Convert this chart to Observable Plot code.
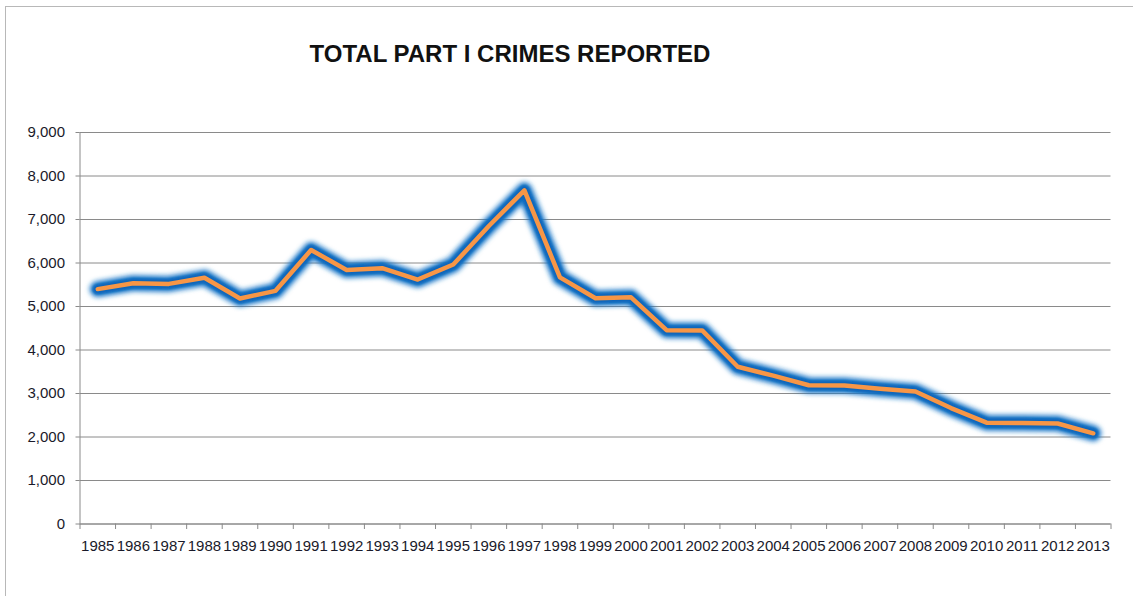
<!DOCTYPE html>
<html>
<head>
<meta charset="utf-8">
<script src="https://cdn.jsdelivr.net/npm/d3@7"></script>
<script src="https://cdn.jsdelivr.net/npm/@observablehq/plot@0.6"></script>
<style>
  html, body { margin: 0; padding: 0; background: #fff; }
  #wrap { position: relative; width: 1133px; height: 596px; overflow: hidden; background: #fff; }
  #frame { position: absolute; left: 5px; top: 6px; width: 1140px; height: 600px;
           border-left: 1.5px solid #b8b8b8; border-top: 1.5px solid #b8b8b8; box-sizing: border-box; }
  #title { position: absolute; left: 0; width: 1020px; top: 40px; text-align: center;
           font-family: "Liberation Sans", Arial, sans-serif; font-weight: bold; font-size: 24px;
           color: #111; letter-spacing: 0px; }
  #chart { position: absolute; left: 0; top: 0; }
</style>
</head>
<body>
<div id="wrap">
  <div id="frame"></div>
  <div id="chart"></div>
  <div id="title">TOTAL PART I CRIMES REPORTED</div>
</div>
<script>
const years = [1985,1986,1987,1988,1989,1990,1991,1992,1993,1994,1995,1996,1997,1998,1999,2000,2001,2002,2003,2004,2005,2006,2007,2008,2009,2010,2011,2012,2013];
const crimes = [5400,5535,5520,5660,5185,5360,6300,5840,5880,5620,5965,6850,7670,5670,5190,5210,4455,4450,3615,3410,3190,3185,3110,3045,2665,2330,2320,2310,2085];
const yTicks = [0,1000,2000,3000,4000,5000,6000,7000,8000,9000];

const data = years.map((y, i) => ({year: y, value: crimes[i]}));
const boundaries = [years[0] - 0.5, ...years.map(y => y + 0.5)];

const plot = Plot.plot({
  width: 1133,
  height: 596,
  marginLeft: 79.5,
  marginRight: 22.5,
  marginTop: 132,
  marginBottom: 72.5,
  style: {fontFamily: "'Liberation Sans', Arial, sans-serif", fontSize: "15px", color: "#1a1a2a", background: "transparent"},
  x: {type: "linear", domain: [years[0] - 0.5, years[years.length - 1] + 0.5]},
  y: {domain: [0, 9000]},
  marks: [
    Plot.gridY(yTicks, {stroke: "#8a8a8a", strokeOpacity: 1, strokeWidth: 1}),
    Plot.axisY(yTicks, {tickFormat: d3.format(","), tickSize: 4, tickPadding: 11, stroke: "#8a8a8a", label: null, fill: "#1a1a2a"}),
    Plot.axisX(years, {tickSize: 0, tickPadding: 16, tickFormat: d => String(d), label: null, fill: "#1a1a2a"}),
    Plot.axisX(boundaries, {tickSize: 5.5, tickFormat: () => "", stroke: "#8a8a8a", label: null}),
    Plot.ruleX([years[0] - 0.5], {stroke: "#8a8a8a"}),
    Plot.ruleY([0], {stroke: "#8a8a8a"}),
    Plot.line(data, {x: "year", y: "value", stroke: "#1a78c8", strokeWidth: 16, strokeLinejoin: "round", strokeLinecap: "round"}),
    Plot.line(data, {x: "year", y: "value", stroke: "#0866bb", strokeWidth: 10, strokeLinejoin: "round", strokeLinecap: "round"}),
    Plot.line(data, {x: "year", y: "value", stroke: "#f79646", strokeWidth: 4.5, strokeLinejoin: "round"})
  ]
});

// soft glow on the blue lines
const svg = d3.select(plot);
const defs = svg.insert("defs", ":first-child");
const f1 = defs.append("filter").attr("id", "glow").attr("x", "-10%").attr("y", "-20%").attr("width", "120%").attr("height", "140%");
f1.append("feGaussianBlur").attr("stdDeviation", 2.4);
const f2 = defs.append("filter").attr("id", "glow2").attr("x", "-10%").attr("y", "-20%").attr("width", "120%").attr("height", "140%");
f2.append("feGaussianBlur").attr("stdDeviation", 1);
const lines = plot.querySelectorAll("g[aria-label='line']");
if (lines.length > 1) {
  lines[0].setAttribute("filter", "url(#glow)");
  lines[1].setAttribute("filter", "url(#glow2)");
}

document.getElementById("chart").appendChild(plot);
</script>
</body>
</html>
